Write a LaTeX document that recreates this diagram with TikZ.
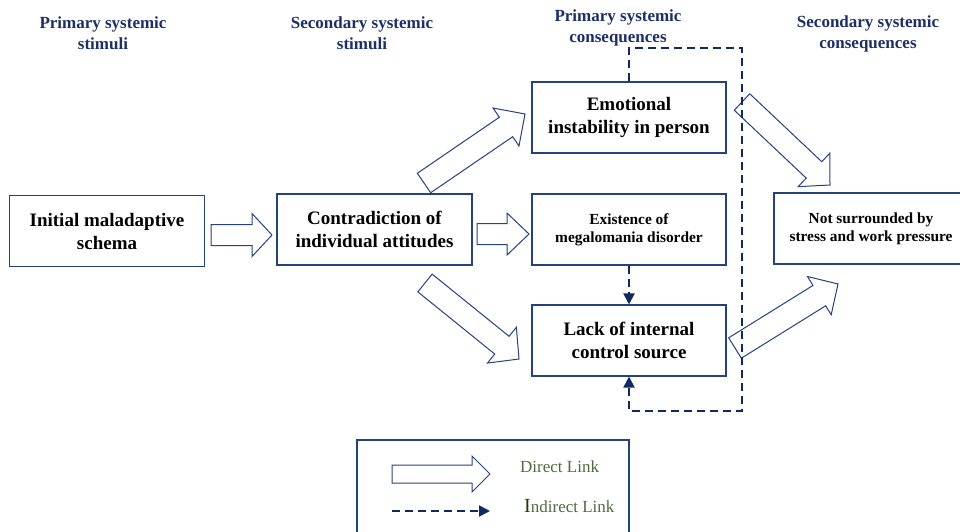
\documentclass[tikz,border=0pt]{standalone}
\usepackage{fontspec}
\setmainfont{Liberation Serif}
\usetikzlibrary{calc,arrows.meta}
\definecolor{navy}{HTML}{24427F}
\definecolor{hnavy}{HTML}{1C2F66}
\definecolor{dnavy}{HTML}{0F2A60}
\definecolor{lgreen}{HTML}{4F6B3A}
\definecolor{dgreen}{HTML}{1E3A12}
\newcommand\blockarrow[5]{%
  \path ($(#2)!#5!(#1)$) coordinate (hb);
  \draw[barrow] ($(#1)!#3!-90:(#2)$) -- ($(hb)!#3!-90:(#2)$) -- ($(hb)!#4!-90:(#2)$) -- (#2)
    -- ($(hb)!#4!90:(#2)$) -- ($(hb)!#3!90:(#2)$) -- ($(#1)!#3!90:(#2)$) -- cycle;}
\begin{document}
\begin{tikzpicture}[x=1pt,y=-1pt,
  box/.style={draw=navy,line width=1.1pt,fill=white,align=center,minimum width=195pt,minimum height=71pt,inner sep=2pt,text=black},
  bigtxt/.style={font=\bfseries\fontsize{19}{23}\selectfont},
  smalltxt/.style={font=\bfseries\fontsize{15.4}{18}\selectfont},
  hdr/.style={align=center,text=hnavy,font=\bfseries\fontsize{17}{21}\selectfont,inner sep=0pt},
  barrow/.style={draw=navy,line width=1pt,fill=white,line join=miter},
  dlink/.style={draw=dnavy,line width=2pt,dash pattern=on 8pt off 5pt},
  dtip/.style={-{Triangle[length=11pt,width=11pt]}}]
\useasboundingbox (0,0) rectangle (960,531);
% headers
\node[hdr] (h1) at (103,33) {Primary systemic\\stimuli};
\node[hdr] (h2) at (362,33) {Secondary systemic\\stimuli};
\node[hdr] (h3) at (618,27.5) {Primary systemic\\consequences};
\node[hdr] (h4) at (868,34) {Secondary systemic\\consequences};
% boxes
\node[box,bigtxt] (init) at (107,231) {Initial maladaptive\\schema};
\node[box,bigtxt] (contra) at (374.5,229.5) {Contradiction of\\individual attitudes};
\node[box,bigtxt,minimum width=194pt] (emo) at (629,117.5) {Emotional\\instability in person};
\node[box,smalltxt,minimum width=194pt] (exist) at (629,229.5) {Existence of\\megalomania disorder};
\node[box,bigtxt,minimum width=194pt] (lack) at (629,340.5) {Lack of internal\\control source};
\node[box,smalltxt,minimum width=194pt] (notsur) at (871,228.5) {Not surrounded by\\stress and work pressure};
% block arrows
\coordinate (a1s) at (211,235); \coordinate (a1e) at (272,235);
\coordinate (a2s) at (477,234); \coordinate (a2e) at (529,234);
\coordinate (a3s) at (424,183); \coordinate (a3e) at (525,114);
\coordinate (a4s) at (425,283); \coordinate (a4e) at (519,359);
\coordinate (a5s) at (742,102); \coordinate (a5e) at (830,185);
\coordinate (a6s) at (735,348); \coordinate (a6e) at (838,284);
\blockarrow{a1s}{a1e}{10.5pt}{21.5pt}{20pt}
\blockarrow{a2s}{a2e}{10.5pt}{21pt}{22pt}
\blockarrow{a3s}{a3e}{11.8pt}{23pt}{23pt}
\blockarrow{a4s}{a4e}{11.4pt}{23pt}{22pt}
\blockarrow{a5s}{a5e}{11.3pt}{23pt}{22pt}
\blockarrow{a6s}{a6e}{12pt}{22.5pt}{22pt}
% dashed links
\coordinate (d1) at (629,48); \coordinate (d2) at (742,48);
\coordinate (d3) at (742,411); \coordinate (d4) at (629,411);
\draw[dlink,dtip] (emo.north) -- (d1) -- (d2) -- (d3) -- (d4) -- (lack.south);
\draw[dlink,dtip] (exist.south) -- (lack.north);
% legend
\node[draw=navy,line width=1.1pt,minimum width=272pt,minimum height=100pt,inner sep=0pt] (legend) at (493,490) {};
\coordinate (l1s) at (392,474); \coordinate (l1e) at (490,474);
\blockarrow{l1s}{l1e}{9pt}{18pt}{18pt}
\coordinate (l2s) at (392,511); \coordinate (l2e) at (490,511);
\draw[dlink,dtip] (l2s) -- (l2e);
\node[anchor=base west,inner sep=0pt,text=lgreen,font=\fontsize{17}{20}\selectfont] (dl) at (520,472) {Direct Link};
\node[anchor=base west,inner sep=0pt,text=lgreen,font=\fontsize{17}{20}\selectfont] (il) at (524,512) {{\color{dgreen}\fontsize{20}{20}\selectfont I}ndirect Link};
\end{tikzpicture}
\end{document}
